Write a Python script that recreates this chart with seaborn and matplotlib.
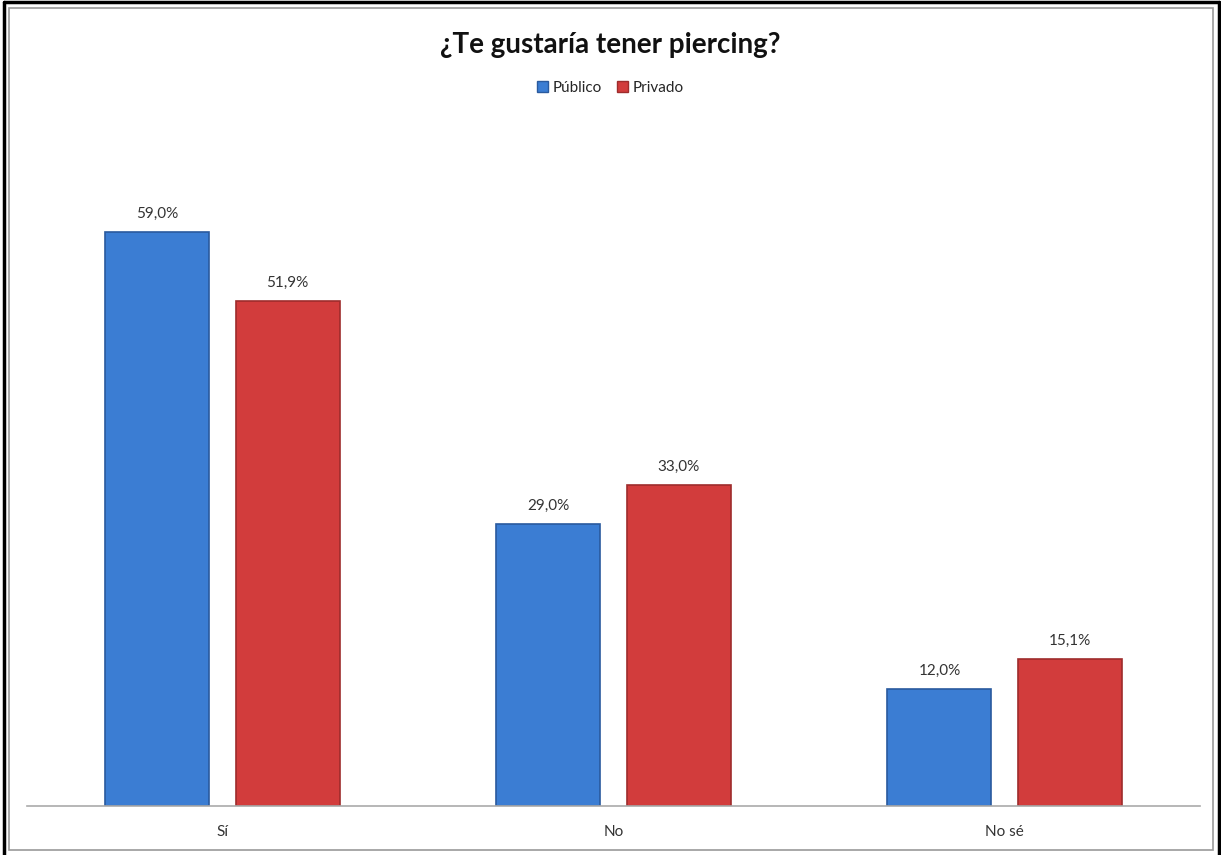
import matplotlib
matplotlib.use("Agg")
import matplotlib.pyplot as plt
from matplotlib.patches import Rectangle
import pandas as pd
import seaborn as sns

categories = ["Sí", "No", "No sé"]
publico = [59.0, 29.0, 12.0]
privado = [51.9, 33.0, 15.1]
series_names = ["Público", "Privado"]
colors = ["#3b7dd3", "#d23c3c"]
edges = ["#2a5a9e", "#9e2c2c"]

df = pd.DataFrame({
    "Respuesta": categories * 2,
    "Valor": publico + privado,
    "Colegio": [series_names[0]] * 3 + [series_names[1]] * 3,
})

sns.set_theme(style="white")
plt.rcParams["font.family"] = ["Lato", "DejaVu Sans"]

W, H = 1221, 855
fig = plt.figure(figsize=(W / 100, H / 100), dpi=100)
ax = fig.add_axes([27 / W, 1 - 806 / H, (1200 - 27) / W, (806 - 173.5) / H])

sns.barplot(data=df, x="Respuesta", y="Valor", hue="Colegio",
            palette=colors, saturation=1, width=0.665, gap=0.2, ax=ax, legend=False)

for cont, ec in zip(ax.containers, edges):
    for bar in cont:
        bar.set_edgecolor(ec)
        bar.set_linewidth(1.2)
    ax.bar_label(cont, labels=[f"{v:.1f}".replace(".", ",") + "%" for v in cont.datavalues],
                 padding=8, fontsize=11, color="#333333")

ax.set_ylim(0, 65)
ax.set_xlim(-0.5, 2.5)
ax.set_xlabel("")
ax.set_ylabel("")
ax.set_yticks([])
ax.tick_params(axis="x", length=0, labelsize=11, pad=14, colors="#333333")
for s in ["top", "right", "left"]:
    ax.spines[s].set_visible(False)
ax.spines["bottom"].set_color("#aaaaaa")
ax.spines["bottom"].set_linewidth(1.2)

fig.text(0.5, 1 - 45 / H, "¿Te gustaría tener piercing?", ha="center", va="center",
         fontsize=20, fontweight="bold", color="#111111")

handles = [Rectangle((0, 0), 1, 1, facecolor=c, edgecolor=e) for c, e in zip(colors, edges)]
fig.legend(handles, series_names, loc="center", bbox_to_anchor=(0.5, 1 - 88 / H),
           ncol=2, frameon=False, fontsize=11, handlelength=0.7, handleheight=0.7,
           handletextpad=0.3, columnspacing=1.0)

# borders
fig.patches.append(Rectangle((9 / W, 1 - 850 / H), (1213 - 9) / W, (850 - 8) / H,
                             transform=fig.transFigure, fill=False,
                             edgecolor="#999999", linewidth=1.2))
fig.add_artist(plt.Line2D([4 / W, 4 / W], [0, 1 - 2 / H], color="black", linewidth=2.5,
                          transform=fig.transFigure))
fig.add_artist(plt.Line2D([4 / W, 1219 / W], [1 - 2 / H, 1 - 2 / H], color="black",
                          linewidth=2.5, transform=fig.transFigure))
fig.add_artist(plt.Line2D([1219 / W, 1219 / W], [0, 1 - 2 / H], color="black", linewidth=2.5,
                          transform=fig.transFigure))

fig.savefig("out.png", dpi=100)
